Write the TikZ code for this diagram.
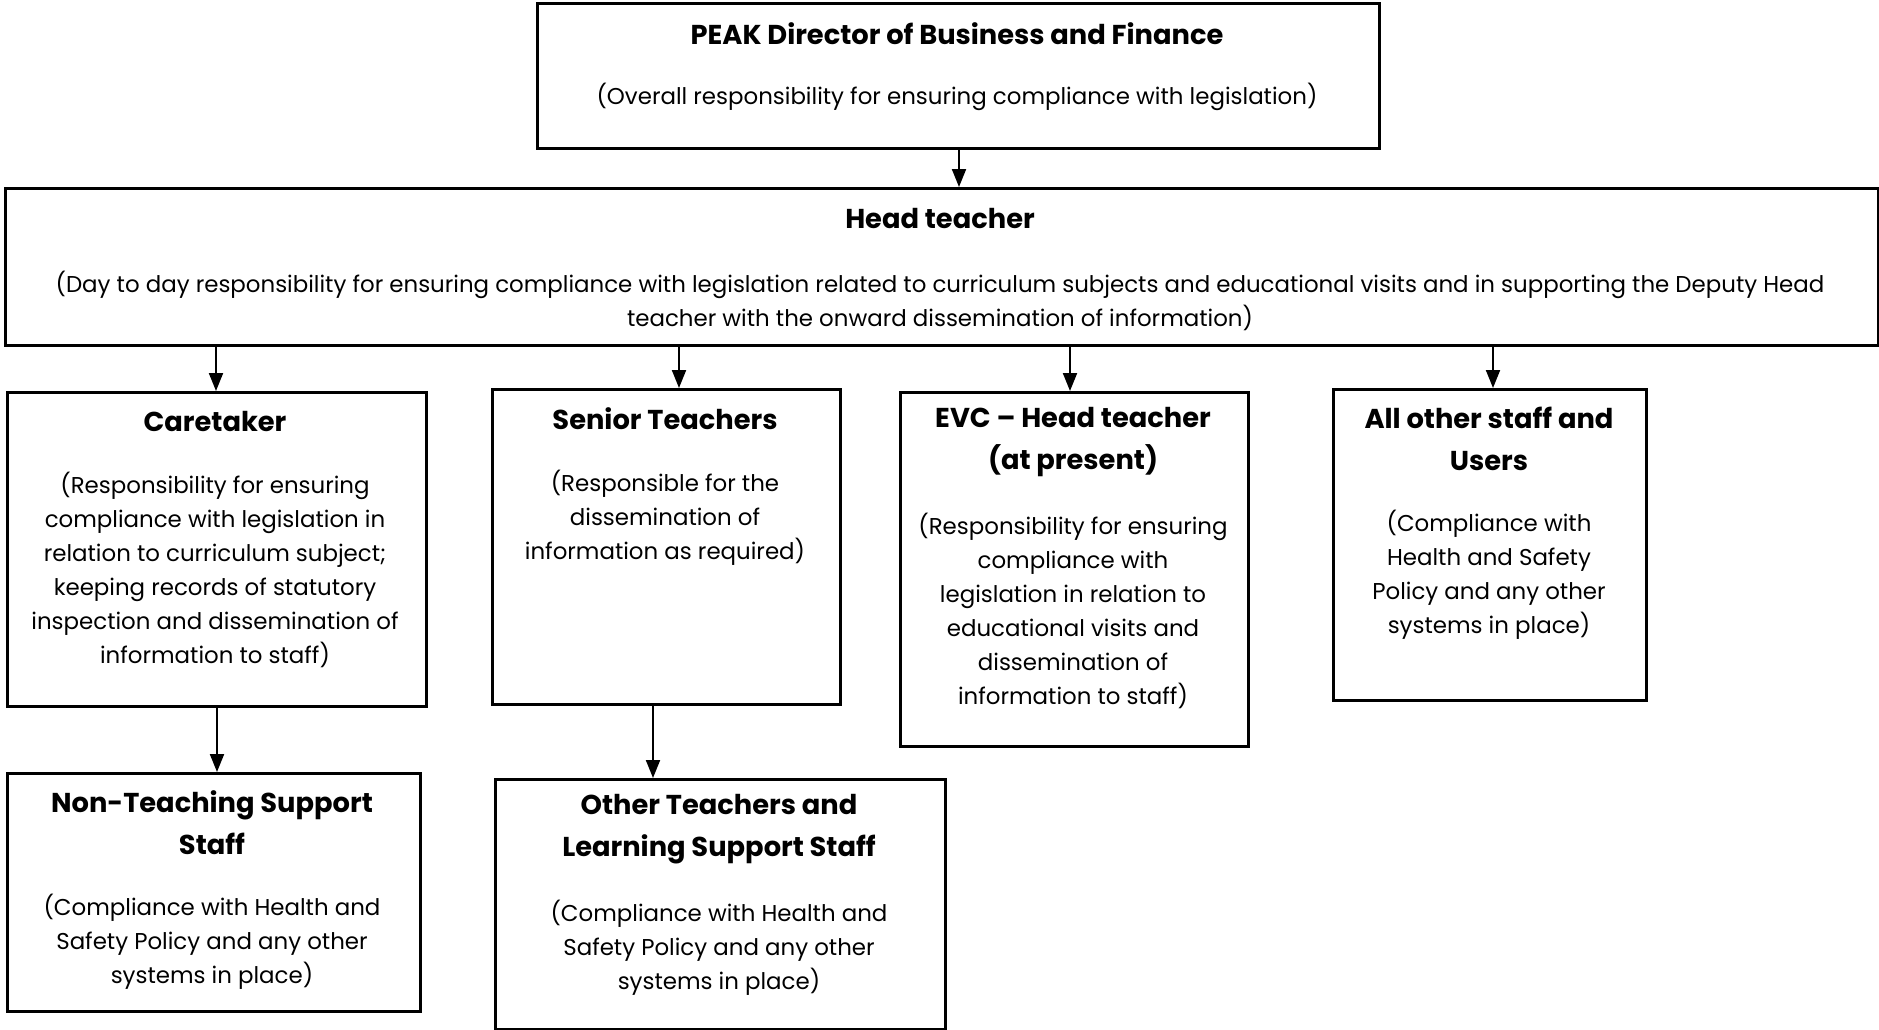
\documentclass[tikz,border=0pt]{standalone}
\usepackage{fontspec}
\setmainfont{Poppins}
\usetikzlibrary{arrows.meta}
\tikzset{
  box/.style={draw=black, line width=2.6pt, fill=white, inner sep=0pt, anchor=north west},
  ttl/.style={align=center, font=\fontsize{27.3}{42}\selectfont\bfseries, inner sep=0pt},
  txt/.style={align=center, font=\fontsize{22.9}{34}\selectfont, inner sep=0pt},
  arr/.style={line width=2pt, -{Triangle[width=14pt,length=18pt]}}
}
\begin{document}
\begin{tikzpicture}[x=1pt,y=-1pt]
\useasboundingbox (0,0) rectangle (1879,1030);
% boxes
\node[box, minimum width=842pt, minimum height=145pt] (peak) at (536,2) {};
\node[box, minimum width=1873pt, minimum height=157pt] (head) at (4,187) {};
\node[box, minimum width=419pt, minimum height=314pt] (care) at (6,391) {};
\node[box, minimum width=348pt, minimum height=315pt] (sen) at (491,388) {};
\node[box, minimum width=348pt, minimum height=354pt] (evc) at (899,391) {};
\node[box, minimum width=313pt, minimum height=311pt] (all) at (1332,388) {};
\node[box, minimum width=413pt, minimum height=238pt] (nont) at (6,772) {};
\node[box, minimum width=450pt, minimum height=250pt] (oth) at (494,778) {};
% texts
\node[ttl] (peakT) at (957,34) {PEAK Director of Business and Finance};
\node[txt] (peakB) at (957,97) {(Overall responsibility for ensuring compliance with legislation)};
\node[ttl] (headT) at (940,219) {Head teacher};
\node[txt] (headB) at (940,301) {(Day to day responsibility for ensuring compliance with legislation related to curriculum subjects and educational visits and in supporting the Deputy Head\\teacher with the onward dissemination of information)};
\node[ttl] (careT) at (215,422) {Caretaker};
\node[txt] (careB) at (215,570) {(Responsibility for ensuring\\compliance with legislation in\\relation to curriculum subject;\\keeping records of statutory\\inspection and dissemination of\\information to staff)};
\node[ttl] (senT) at (665,419) {Senior Teachers};
\node[txt] (senB) at (665,518) {(Responsible for the\\dissemination of\\information as required)};
\node[ttl] (evcT) at (1073,442) {EVC -- Head teacher\\(at present)};
\node[txt] (evcB) at (1073,611) {(Responsibility for ensuring\\compliance with\\legislation in relation to\\educational visits and\\dissemination of\\information to staff)};
\node[ttl] (allT) at (1489,439) {All other staff and\\Users};
\node[txt] (allB) at (1489,575) {(Compliance with\\Health and Safety\\Policy and any other\\systems in place)};
\node[ttl] (nontT) at (212,823) {Non-Teaching Support\\Staff};
\node[txt] (nontB) at (212,942) {(Compliance with Health and\\Safety Policy and any other\\systems in place)};
\node[ttl] (othT) at (719,829) {Other Teachers and\\Learning Support Staff};
\node[txt] (othB) at (719,948) {(Compliance with Health and\\Safety Policy and any other\\systems in place)};
% connectors
\draw[arr] (peak.south -| 959,0) -- (head.north -| 959,0);
\draw[arr] (head.south -| 216,0) -- (care.north -| 216,0);
\draw[arr] (head.south -| 679,0) -- (sen.north -| 679,0);
\draw[arr] (head.south -| 1070,0) -- (evc.north -| 1070,0);
\draw[arr] (head.south -| 1493,0) -- (all.north -| 1493,0);
\draw[arr] (care.south -| 217,0) -- (nont.north -| 217,0);
\draw[arr] (sen.south -| 653,0) -- (oth.north -| 653,0);
\end{tikzpicture}
\end{document}
